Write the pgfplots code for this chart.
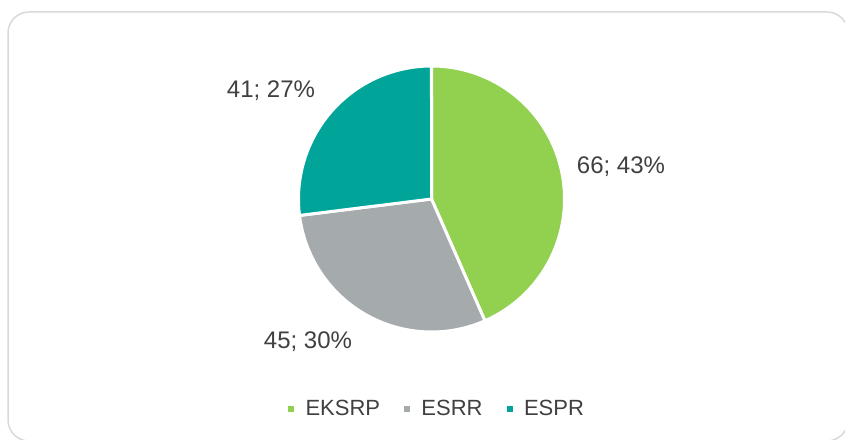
\documentclass[border=0pt]{standalone}
\usepackage{pgfplots}
\usepackage{pgfplotstable}
\pgfplotsset{compat=1.18}
\usepackage{fontspec}
\setmainfont{Liberation Sans}

\definecolor{eksrp}{RGB}{146,208,80}
\definecolor{esrr}{RGB}{165,170,173}
\definecolor{espr}{RGB}{0,164,153}
\definecolor{txtgray}{RGB}{64,64,64}
\definecolor{framegray}{RGB}{217,217,217}

\pgfplotstableread{
label value
EKSRP 66
ESRR  45
ESPR  41
}\piedata

\begin{document}
\begin{tikzpicture}
  \useasboundingbox (0,0) rectangle (422.5pt,219.5pt);
  \clip (0,0) rectangle (422.5pt,219.5pt);

  % angles of the slices, clockwise from 12 o'clock
  \pgfplotstablegetelem{0}{value}\of\piedata \let\va\pgfplotsretval
  \pgfplotstablegetelem{1}{value}\of\piedata \let\vb\pgfplotsretval
  \pgfplotstablegetelem{2}{value}\of\piedata \let\vc\pgfplotsretval
  \pgfmathsetmacro\tot{\va+\vb+\vc}
  \pgfmathsetmacro\aA{90}
  \pgfmathsetmacro\aB{\aA-360*(\va/\tot)}
  \pgfmathsetmacro\aC{\aB-360*(\vb/\tot)}
  \pgfmathsetmacro\aD{\aC-360*(\vc/\tot)}
  \def\cx{431.5}\def\cy{240}\def\r{133}

  \begin{axis}[
    at={(0,0)}, anchor=south west,
    width=422.5pt, height=219.5pt,
    scale only axis,
    xmin=0, xmax=845, ymin=0, ymax=439,
    hide axis,
    clip=false,
    samples=90,
    legend image code/.code={\fill[#1,draw=none] (0pt,-1.6pt) rectangle (3.2pt,1.6pt);},
    legend style={at={(axis cs:438,30)}, anchor=center, draw=none, fill=none,
                  legend columns=3, font=\fontsize{11}{13}\selectfont,
                  text=txtgray,
                  /tikz/every even column/.append style={column sep=10pt},
                  /tikz/every odd column/.append style={column sep=3.5pt}},
  ]
    \addplot[fill=eksrp, draw=white, line width=1.5pt, domain=\aB:\aA]
      ({\cx+\r*cos(x)},{\cy+\r*sin(x)}) -- (\cx,\cy) -- cycle;
    \addlegendentry{EKSRP}
    \addplot[fill=esrr, draw=white, line width=1.5pt, domain=\aC:\aB]
      ({\cx+\r*cos(x)},{\cy+\r*sin(x)}) -- (\cx,\cy) -- cycle;
    \addlegendentry{ESRR}
    \addplot[fill=espr, draw=white, line width=1.5pt, domain=\aD:\aC]
      ({\cx+\r*cos(x)},{\cy+\r*sin(x)}) -- (\cx,\cy) -- cycle;
    \addlegendentry{ESPR}

    \node[text=txtgray, font=\fontsize{12}{14}\selectfont] at (axis cs:621,272) {66; 43\%};
    \node[text=txtgray, font=\fontsize{12}{14}\selectfont] at (axis cs:308,97) {45; 30\%};
    \node[text=txtgray, font=\fontsize{12}{14}\selectfont] at (axis cs:271,348) {41; 27\%};
  \end{axis}

  \draw[framegray, line width=0.75pt, rounded corners=10.5pt]
    (4pt,-1pt) rectangle (424pt,213.5pt);
\end{tikzpicture}
\end{document}
